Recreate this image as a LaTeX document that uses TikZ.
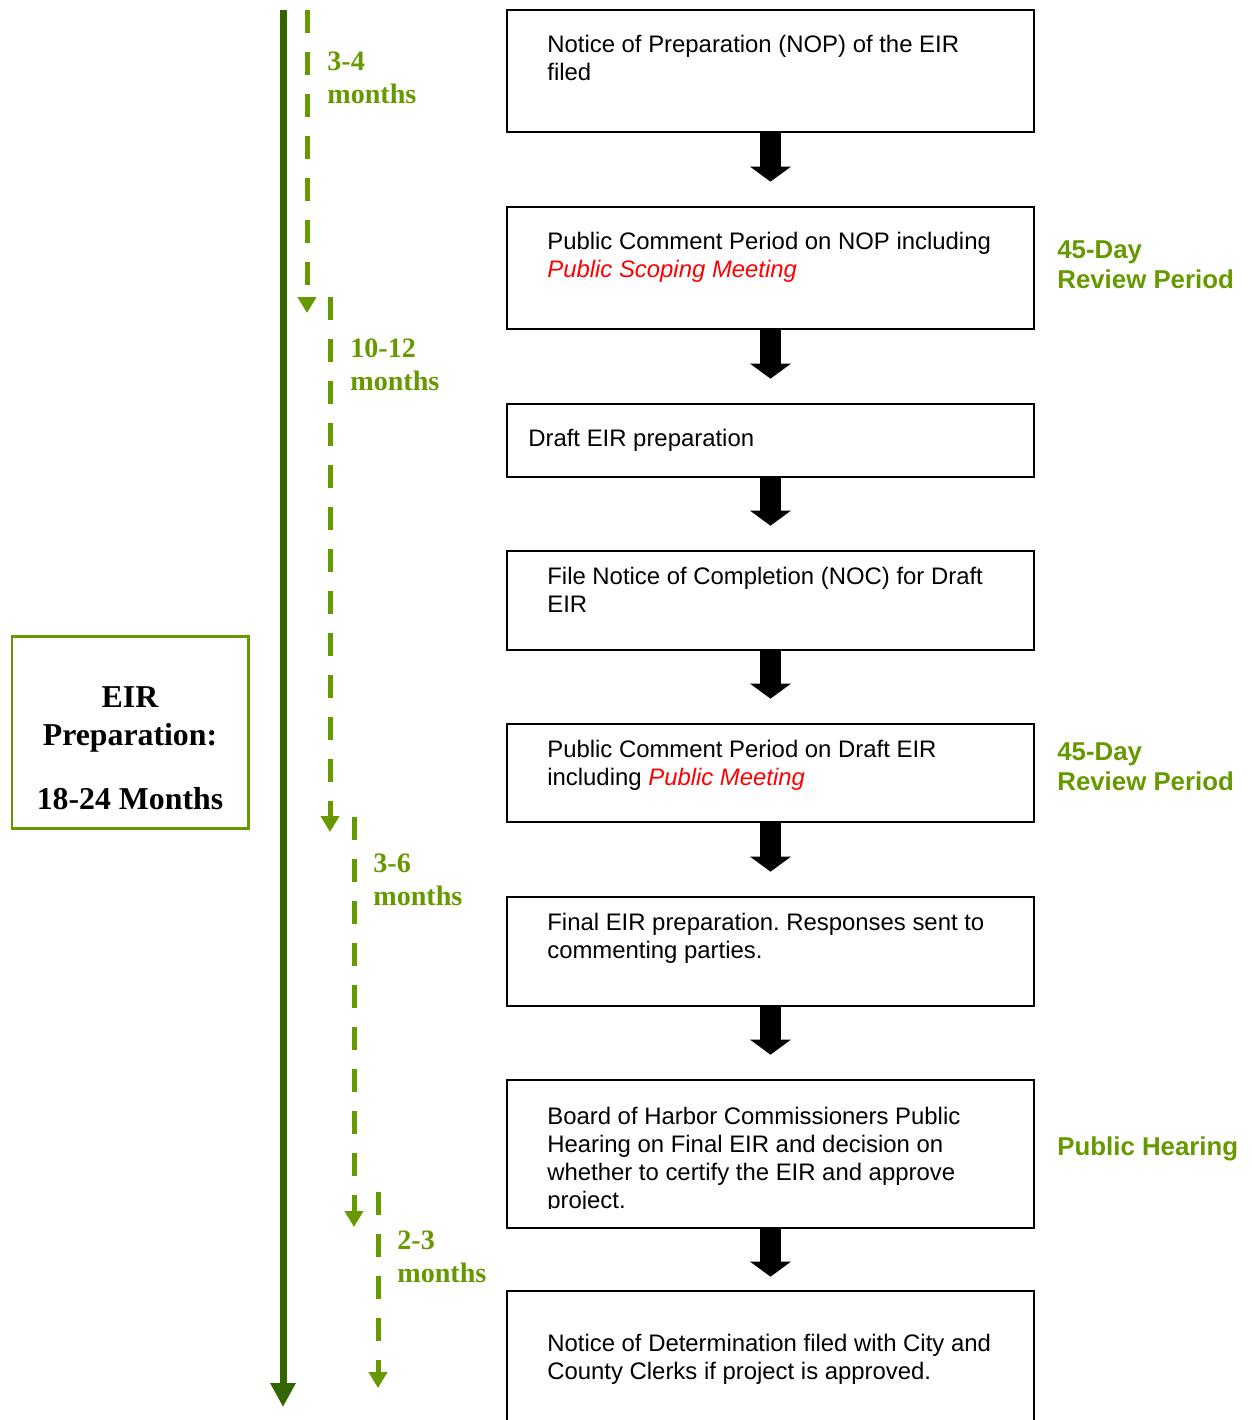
\documentclass[tikz,border=0pt]{standalone}
\usepackage{fontspec}
\setmainfont{Liberation Sans}
\newfontfamily\timesfont{Liberation Serif}
\usetikzlibrary{arrows.meta}
\definecolor{DarkGreen}{HTML}{336600}
\definecolor{LeafGreen}{HTML}{669900}
\definecolor{NoteRed}{HTML}{FF0000}
\newcommand{\pxl}{0.02cm}
\frenchspacing
\tikzset{
  stepbox/.style={draw, line width=1.5pt, minimum width=527*\pxl, inner sep=0pt},
  boxtext/.style={anchor=base west, align=left, inner sep=0pt,
    font=\fontsize{13.6pt}{15.9pt}\selectfont},
  blockarrow/.style={line width=0.42cm, -{Triangle[width=0.8cm,length=0.3cm]},
    shorten >=0.48cm},
  timeline/.style={DarkGreen, line width=0.14cm, -{Triangle[width=0.48cm,length=0.48cm]}},
  phase/.style={LeafGreen, line width=0.1cm, dash pattern=on 0.46cm off 0.38cm,
    -{Triangle[width=0.36cm,length=0.32cm]}},
  phasetext/.style={LeafGreen, anchor=base west, align=left, inner sep=0pt,
    font=\timesfont\bfseries\fontsize{16pt}{18.7pt}\selectfont},
  reviewtext/.style={LeafGreen, anchor=base west, align=left, inner sep=0pt,
    font=\bfseries\fontsize{14.7pt}{17pt}\selectfont}
}
\begin{document}
\begin{tikzpicture}[x=0.02cm, y=-0.02cm]
  \useasboundingbox (0,0) rectangle (1251,1420);

  % process boxes
  \node[stepbox, minimum height=122*\pxl] (b1) at (770.5,71)    {};
  \node[stepbox, minimum height=122*\pxl] (b2) at (770.5,268)   {};
  \node[stepbox, minimum height=73*\pxl]  (b3) at (770.5,440.5) {};
  \node[stepbox, minimum height=99*\pxl]  (b4) at (770.5,600.5) {};
  \node[stepbox, minimum height=98*\pxl]  (b5) at (770.5,773)   {};
  \node[stepbox, minimum height=109*\pxl] (b6) at (770.5,951.5) {};
  \node[stepbox, minimum height=148*\pxl] (b7) at (770.5,1154)  {};
  \node[stepbox, minimum height=160*\pxl] (b8) at (770.5,1371)  {};

  % texts are placed by the baseline of their last line
  \node[boxtext] (t1) at (547,80) {Notice of Preparation (NOP) of the EIR\\filed};
  \node[boxtext] (t2) at (547,277) {Public Comment Period on NOP including\\
    {\color{NoteRed}\itshape Public Scoping Meeting}};
  \node[boxtext] (t3) at (528,446) {Draft EIR preparation};
  \node[boxtext] (t4) at (547,612) {File Notice of Completion (NOC) for Draft\\EIR};
  \node[boxtext] (t5) at (547,785) {Public Comment Period on Draft EIR\\
    including {\color{NoteRed}\itshape Public Meeting}};
  \node[boxtext] (t6) at (547,958) {Final EIR preparation. Responses sent to\\
    commenting parties.};
  \begin{scope}
    \clip (507,1080) rectangle (1034,1208);
    \node[boxtext] (t7) at (547,1208) {Board of Harbor Commissioners Public\\
      Hearing on Final EIR and decision on\\
      whether to certify the EIR and approve\\project.};
  \end{scope}
  \node[boxtext] (t8) at (547,1379) {Notice of Determination filed with City and\\
    County Clerks if project is approved.};

  \foreach \a/\b in {b1/b2,b2/b3,b3/b4,b4/b5,b5/b6,b6/b7}{%
    \draw[blockarrow] (\a) -- (\b);
  }
  \draw[blockarrow, shorten >=0.26cm] (b7) -- (b8);

  % review labels
  \node[reviewtext] (rv1) at (1057,288) {45-Day\\Review Period};
  \node[reviewtext] (rv2) at (1057,790) {45-Day\\Review Period};
  \node[reviewtext] (hear) at (1057,1155) {Public Hearing};

  % time line
  \coordinate (tls) at (283,10);
  \coordinate (tle) at (283,1407);
  \draw[timeline] (tls) -- (tle);

  \foreach \i/\x/\ys/\ye in {1/307/10/313, 2/330/297/832, 3/354/817/1227, 4/378/1192/1388}{%
    \coordinate (p\i s) at (\x,\ys);
    \coordinate (p\i e) at (\x,\ye);
    \draw[phase] (p\i s) -- (p\i e);
  }
  \node[phasetext] (m1) at (327,103)  {3-4\\months};
  \node[phasetext] (m2) at (350,390)  {10-12\\months};
  \node[phasetext] (m3) at (373,905)  {3-6\\months};
  \node[phasetext] (m4) at (397,1282) {2-3\\months};

  % summary box
  \node[draw=LeafGreen, line width=0.06cm, minimum width=236*\pxl,
    minimum height=192*\pxl] (prep) at (130,732) {};
  \node[anchor=base, align=center, inner sep=0pt,
    font=\timesfont\bfseries\fontsize{18.1pt}{21.5pt}\selectfont] (preptext) at (130,809)
    {EIR\\Preparation:\\[14.7pt]18-24 Months};
\end{tikzpicture}
\end{document}
